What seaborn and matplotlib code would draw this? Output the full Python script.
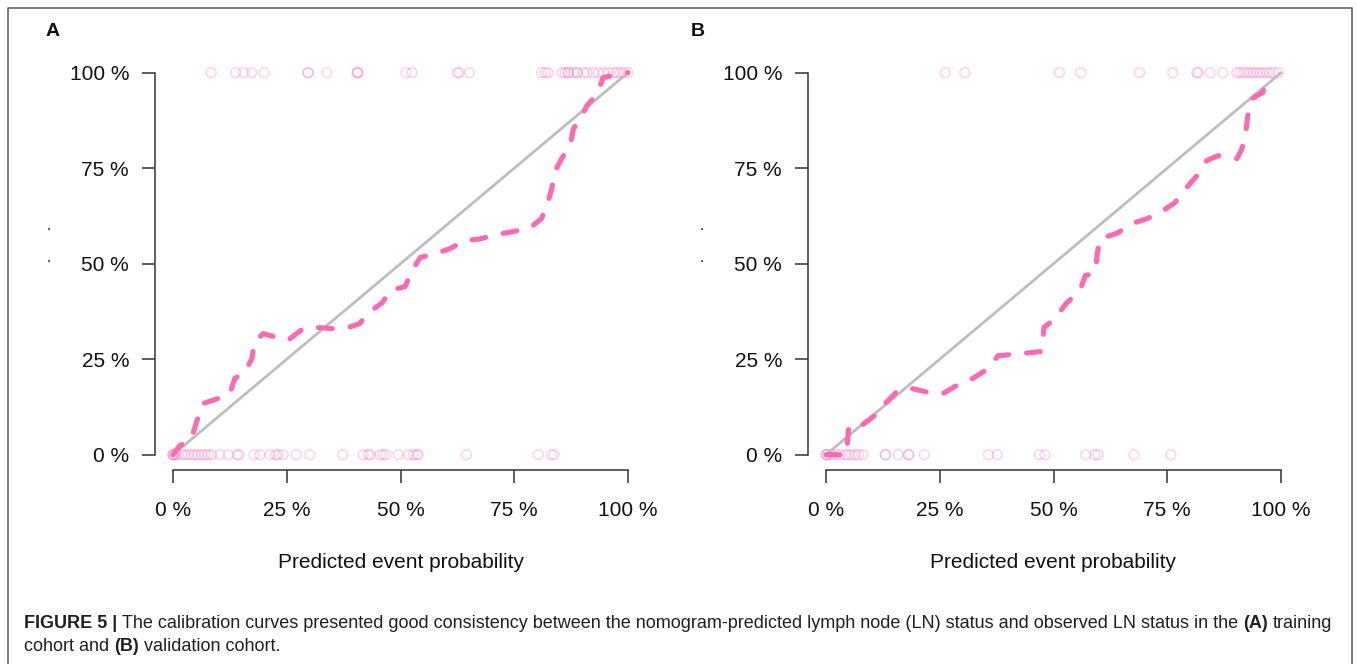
import matplotlib
matplotlib.use("Agg")
import matplotlib.pyplot as plt
import seaborn as sns
import pandas as pd
from matplotlib.lines import Line2D

# ---------------- data ----------------
tick_values = [0, 0.25, 0.5, 0.75, 1.0]
tick_labels = ["0 %", "25 %", "50 %", "75 %", "100 %"]
ideal_x = [0.0, 1.0]
ideal_y = [0.0, 1.0]

cal_a_x = [0.000, 0.015, 0.040, 0.053, 0.066, 0.099, 0.125, 0.136, 0.158, 0.174,
           0.178, 0.198, 0.220, 0.253, 0.286, 0.316, 0.350, 0.385, 0.410, 0.430,
           0.460, 0.477, 0.510, 0.525, 0.543, 0.576, 0.610, 0.640, 0.675, 0.710,
           0.747, 0.785, 0.810, 0.824, 0.833, 0.840, 0.855, 0.873, 0.880, 0.895,
           0.910, 0.934, 0.945, 0.982, 1.000]
cal_a_y = [0.000, 0.024, 0.040, 0.090, 0.134, 0.147, 0.160, 0.200, 0.215, 0.254,
           0.293, 0.317, 0.310, 0.300, 0.330, 0.333, 0.330, 0.333, 0.343, 0.372,
           0.398, 0.430, 0.440, 0.480, 0.516, 0.526, 0.540, 0.560, 0.565, 0.576,
           0.584, 0.594, 0.618, 0.660, 0.700, 0.743, 0.777, 0.809, 0.853, 0.880,
           0.914, 0.948, 0.987, 0.997, 1.000]

cal_b_x = [0.000, 0.045, 0.050, 0.080, 0.112, 0.130, 0.158, 0.190, 0.228, 0.257,
           0.294, 0.323, 0.356, 0.378, 0.420, 0.448, 0.472, 0.476, 0.479, 0.503,
           0.527, 0.558, 0.570, 0.590, 0.593, 0.596, 0.602, 0.640, 0.672, 0.706,
           0.741, 0.767, 0.793, 0.815, 0.837, 0.862, 0.903, 0.914, 0.923, 0.927,
           0.936, 0.960, 0.970]
cal_b_y = [0.000, 0.000, 0.075, 0.078, 0.107, 0.134, 0.168, 0.173, 0.162, 0.160,
           0.186, 0.200, 0.225, 0.259, 0.264, 0.267, 0.270, 0.293, 0.333, 0.356,
           0.395, 0.430, 0.469, 0.475, 0.487, 0.526, 0.565, 0.580, 0.605, 0.618,
           0.639, 0.660, 0.700, 0.730, 0.770, 0.783, 0.775, 0.800, 0.848, 0.887,
           0.932, 0.948, 1.000]

obs_a_pos = [0.084, 0.138, 0.155, 0.173, 0.200, 0.297, 0.297, 0.338, 0.405, 0.405,
             0.407, 0.512, 0.525, 0.625, 0.629, 0.651, 0.810, 0.818, 0.824, 0.855,
             0.862, 0.869, 0.869, 0.880, 0.888, 0.888, 0.902, 0.910, 0.924, 0.935,
             0.946, 0.957, 0.968, 0.976, 0.983, 0.991, 1.000]
obs_a_neg = [0.000, 0.000, 0.002, 0.004, 0.008, 0.019, 0.026, 0.033, 0.041, 0.048,
             0.055, 0.063, 0.070, 0.077, 0.085, 0.103, 0.121, 0.141, 0.145, 0.178,
             0.191, 0.213, 0.226, 0.231, 0.242, 0.271, 0.301, 0.373, 0.418, 0.429,
             0.433, 0.455, 0.462, 0.468, 0.495, 0.517, 0.528, 0.535, 0.539, 0.645,
             0.803, 0.832, 0.837]

obs_b_pos = [0.262, 0.305, 0.513, 0.560, 0.689, 0.762, 0.815, 0.818, 0.844, 0.872,
             0.903, 0.910, 0.917, 0.925, 0.932, 0.939, 0.947, 0.954, 0.961, 0.969,
             0.976, 0.983, 0.994]
obs_b_neg = [0.000, 0.001, 0.003, 0.012, 0.023, 0.031, 0.042, 0.049, 0.056, 0.064,
             0.071, 0.081, 0.130, 0.131, 0.159, 0.181, 0.182, 0.216, 0.357, 0.376,
             0.469, 0.481, 0.571, 0.591, 0.598, 0.677, 0.758]

panel_labels = ["A", "B"]
x_label = "Predicted event probability"
caption_line1 = [("FIGURE 5 |", True),
                 ("The calibration curves presented good consistency between the nomogram-predicted lymph node (LN) status and observed LN status in the", False),
                 ("(A)", True), ("training", False)]
caption_line2 = [("cohort and", False), ("(B)", True), ("validation cohort.", False)]

# ---------------- style ----------------
sns.set_theme(style="white")
plt.rcParams["font.family"] = ["Liberation Sans", "DejaVu Sans"]

W, H = 1357, 664
fig = plt.figure(figsize=(W / 100, H / 100), dpi=100)

PINK = "#FF69B4"
CIRCLE = "#FF69B4"
GRAY = "#BEBEBE"
AXC = "#333333"


def axes_rect(left_px):
    return [left_px / W, 1 - 470.0 / H, 491.4 / W, 412.6 / H]


def draw_panel(ax, cx, cy, pos, neg):
    pts = pd.DataFrame({"x": pos + neg, "y": [1.0] * len(pos) + [0.0] * len(neg)})
    sns.scatterplot(data=pts, x="x", y="y", ax=ax, marker="o", s=50,
                    facecolor="none", edgecolor=CIRCLE, linewidth=1.0,
                    alpha=0.32, zorder=2, legend=False)
    sns.lineplot(x=ideal_x, y=ideal_y, ax=ax, color=GRAY, linewidth=2.0,
                 estimator=None, sort=False, zorder=3)
    sns.lineplot(x=cx, y=cy, ax=ax, color=PINK, linewidth=3.7,
                 estimator=None, sort=False, zorder=4)
    ln = ax.lines[-1]
    ln.set_dashes([2.7, 3.5])
    ln.set_dash_capstyle("round")
    ln.set_solid_capstyle("round")

    ax.set_xlim(-0.04, 1.04)
    ax.set_ylim(-0.04, 1.04)
    ax.set_xticks(tick_values)
    ax.set_xticklabels(tick_labels)
    ax.set_yticks(tick_values)
    ax.set_yticklabels(tick_labels)
    for s in ["top", "right"]:
        ax.spines[s].set_visible(False)
    for s in ["left", "bottom"]:
        ax.spines[s].set_visible(True)
        ax.spines[s].set_color(AXC)
        ax.spines[s].set_linewidth(1.1)
        ax.spines[s].set_bounds(0, 1)
    ax.tick_params(axis="both", direction="out", length=9.5, width=1.1,
                   color=AXC, labelsize=15, labelcolor="#111111",
                   bottom=True, left=True)
    ax.tick_params(axis="x", pad=13)
    ax.tick_params(axis="y", pad=9)
    ax.grid(False)
    ax.set_ylabel("")
    ax.set_xlabel(x_label, fontsize=15, color="#111111")
    ax.xaxis.set_label_coords(0.5, -0.2247)
    ax.xaxis.label.set_va("center")
    ax.set_facecolor("white")


axA = fig.add_axes(axes_rect(154.8))
axB = fig.add_axes(axes_rect(807.8))
draw_panel(axA, cal_a_x, cal_a_y, obs_a_pos, obs_a_neg)
draw_panel(axB, cal_b_x, cal_b_y, obs_b_pos, obs_b_neg)

# panel letters
fig.text(53 / W, 1 - 32 / H, panel_labels[0], fontsize=14, fontweight="bold",
         ha="center", va="center", color="#111111")
fig.text(698 / W, 1 - 32 / H, panel_labels[1], fontsize=14, fontweight="bold",
         ha="center", va="center", color="#111111")

# stray dots from the empty y labels
for xp in (49, 702):
    for yp in (230, 262):
        fig.text(xp / W, 1 - yp / H, ".", fontsize=11, ha="center",
                 va="baseline", color="#111111")

# outer frame
frame = Line2D([7.5 / W, 7.5 / W, 1352 / W, 1352 / W],
               [-0.02, 1 - 7.5 / H, 1 - 7.5 / H, -0.02],
               transform=fig.transFigure, color="#555555", linewidth=1.1)
fig.add_artist(frame)

# caption with mixed weights
renderer = fig.canvas.get_renderer()
CAPC = "#231f20"


def rich_line(segments, x_px, y_px, size, draw=True):
    x = x_px
    space = size * 0.278 * 100 / 72
    made = []
    for i, (txt, bold) in enumerate(segments):
        t = fig.text(x / W, 1 - y_px / H, txt, fontsize=size,
                     fontweight="bold" if bold else "normal",
                     ha="left", va="baseline", color=CAPC)
        made.append(t)
        bb = t.get_window_extent(renderer=renderer)
        x += bb.width + space
    if not draw:
        for t in made:
            t.remove()
    return x - space - x_px


base = 12.0
w = rich_line(caption_line1, 24, 628, base, draw=False)
cap_size = base * 1314 / w
rich_line(caption_line1, 24, 628, cap_size)
rich_line(caption_line2, 24, 651, cap_size)

fig.savefig("out.png", dpi=100, facecolor="white")
